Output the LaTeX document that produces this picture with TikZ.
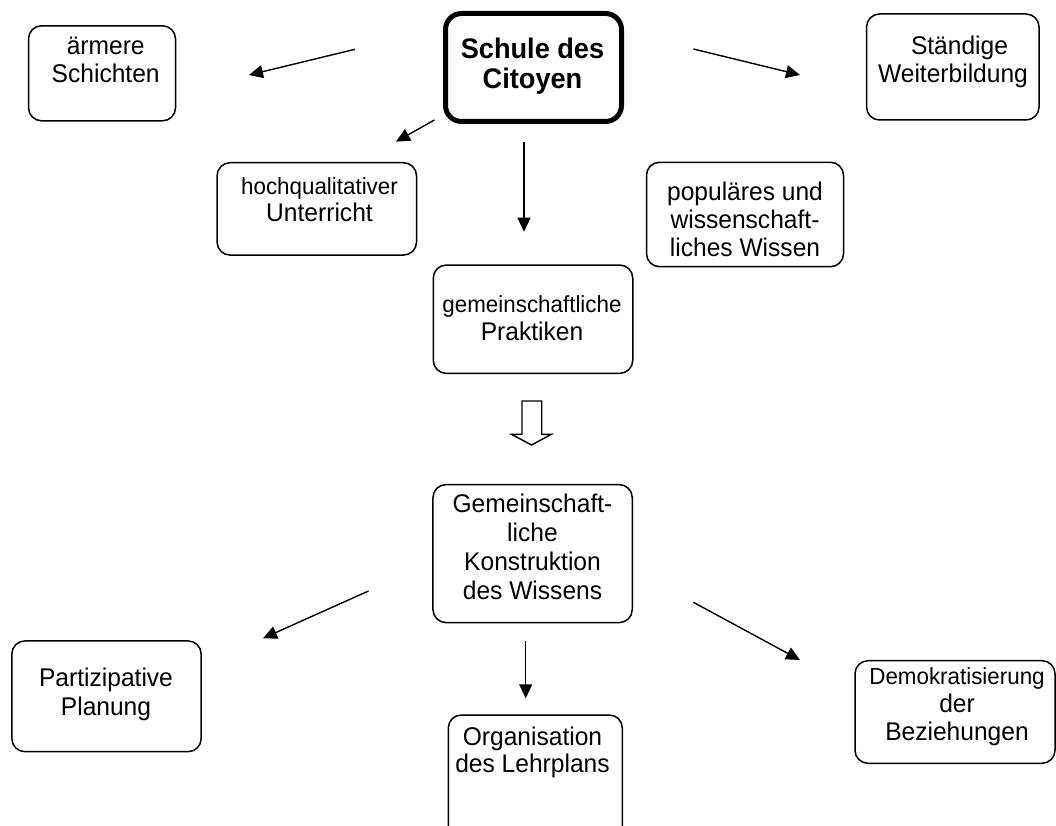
\documentclass[tikz,border=0pt]{standalone}
\usepackage{fontspec}
\setmainfont[FakeStretch=0.96]{Liberation Sans}
\usetikzlibrary{arrows.meta}
\tikzset{
  box/.style={draw, line width=1.5pt, rounded corners=13pt, inner sep=0pt},
  mainbox/.style={draw, line width=5pt, rounded corners=16pt, inner sep=0pt},
  lbl/.style={anchor=north, inner sep=0pt, align=center, font={\fontsize{25.6}{28}\selectfont}},
  conn/.style={line width=1.4pt, -{Triangle[length=14pt,width=13pt]}},
  hollow/.style={draw, line width=1.4pt, fill=white},
}
\newcommand{\smalltext}[1]{{\fontsize{23.3}{28}\selectfont #1}}
\begin{document}
\begin{tikzpicture}[x=1pt,y=-1pt]
\useasboundingbox (0,0) rectangle (1056,826);
% boxes
\node[box, minimum width=147pt, minimum height=95pt] (b1) at (102,73.3) {};
\node[mainbox, minimum width=176pt, minimum height=108pt] (b2) at (533.5,67.5) {};
\node[box, minimum width=172.5pt, minimum height=106pt] (b3) at (952.8,67) {};
\node[box, minimum width=199.5pt, minimum height=92.3pt] (b4) at (316.8,208.9) {};
\node[box, minimum width=197pt, minimum height=104.4pt] (b5) at (745,214.5) {};
\node[box, minimum width=199.5pt, minimum height=108.3pt] (b6) at (533,319.2) {};
\node[box, minimum width=199.3pt, minimum height=138pt] (b8) at (532.6,553.6) {};
\node[box, minimum width=189.3pt, minimum height=110.7pt] (b9) at (106.5,696.3) {};
\node[box, minimum width=174pt, minimum height=145pt] (b10) at (535.3,787.5) {};
\node[box, minimum width=200pt, minimum height=102.6pt] (b11) at (955,712) {};
% labels
\node[lbl] (t1) at (105.7,34.7) {\strut ärmere\\Schichten};
\node[lbl, font={\bfseries\fontsize{28.3}{29}\selectfont}] (t2) at (532.5,37.7) {\strut Schule des\\Citoyen};
\node[lbl] (t3) at (953,34.4) {\strut\hspace*{13pt}Ständige\\Weiterbildung};
\node[lbl] (t4) at (319.5,174.7) {\strut\smalltext{hochqualitativer}\\[-0.6pt]Unterricht};
\node[lbl] (t5) at (745,180.4) {\strut populäres und\\wissenschaft-\\liches Wissen};
\node[lbl, font={\fontsize{25.6}{27.3}\selectfont}] (t6) at (532,293.6) {\strut\smalltext{gemeinschaftliche}\\Praktiken};
\node[lbl, font={\fontsize{25.6}{29}\selectfont}] (t8) at (532.5,491.7) {\strut Gemeinschaft-\\liche\\Konstruktion\\des Wissens};
\node[lbl, font={\fontsize{25.6}{29}\selectfont}] (t9) at (106,665.7) {\strut Partizipative\\Planung};
\node[lbl, font={\fontsize{25.6}{27}\selectfont}] (t10) at (532.5,726.1) {\strut Organisation\\des Lehrplans};
\node[lbl] (t11) at (957,664.4) {\strut\smalltext{Demokratisierung}\\der\\Beziehungen};
% arrow end points
\coordinate (a1s) at (355,49.3);   \coordinate (a1e) at (249,75);
\coordinate (a2s) at (434.4,120);  \coordinate (a2e) at (396,141.7);
\coordinate (a3s) at (524,141.7);  \coordinate (a3e) at (524,231.7);
\coordinate (a4s) at (693.4,49);   \coordinate (a4e) at (800,75);
\coordinate (a5s) at (368.5,591);  \coordinate (a5e) at (263,638.3);
\coordinate (a6s) at (525.7,641);  \coordinate (a6e) at (525.7,698.3);
\coordinate (a7s) at (693.4,602.3);\coordinate (a7e) at (800,660);
\draw[conn] (a1s) -- (a1e);
\draw[conn] (a2s) -- (a2e);
\draw[conn] (a3s) -- (a3e);
\draw[conn] (a4s) -- (a4e);
\draw[conn] (a5s) -- (a5e);
\draw[conn] (a6s) -- (a6e);
\draw[conn] (a7s) -- (a7e);
% hollow arrow between the two middle boxes
\draw[hollow] (522,401) -- (541.7,401) -- (541.7,434.3) -- (551.4,434.3) -- (531.6,445) -- (511.4,434.3) -- (522,434.3) -- cycle;
\end{tikzpicture}
\end{document}
